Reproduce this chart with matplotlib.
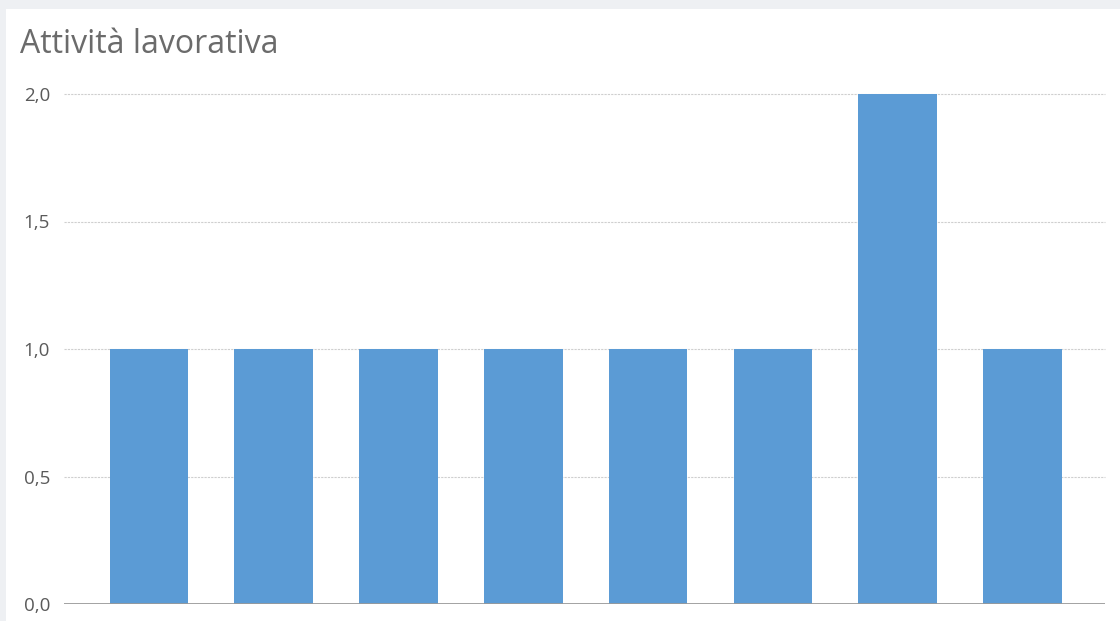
import numpy as np
import matplotlib.pyplot as plt
import matplotlib.patches as patches

# data
categories = ['1', '2', '3', '4', '5', '6', '7', '8']
values = [1, 1, 1, 1, 1, 1, 2, 1]
yticks = [0.0, 0.5, 1.0, 1.5, 2.0]
ytick_labels = ['0,0', '0,5', '1,0', '1,5', '2,0']

W, H = 1120, 621
fig = plt.figure(figsize=(W / 100, H / 100), dpi=100)
fig.patch.set_facecolor('#eef0f3')

# white card
fig.add_artist(patches.Rectangle((6 / W, 0), 1, 1 - 9 / H, transform=fig.transFigure,
                                 facecolor='white', edgecolor='none', zorder=0))

ax = fig.add_axes([64 / W, 1 - 604 / H, (1105 - 64) / W, (604 - 94) / H])
ax.set_facecolor('none')

x = np.arange(len(categories))
ax.bar(x, values, width=0.63, color='#5b9bd5', zorder=3)

ax.set_xlim(-0.68, len(categories) - 1 + 0.66)
ax.set_ylim(0, 2.0)
ax.set_yticks(yticks)
ax.set_yticklabels(ytick_labels, fontsize=13.5, color='#5a5a5a', family='Open Sans')
ax.set_xticks([])
ax.tick_params(axis='y', length=0, pad=29)
for lab in ax.get_yticklabels():
    lab.set_horizontalalignment('left')

for y in yticks[1:]:
    ax.axhline(y, color='#cfcfcf', linewidth=0.8, linestyle=(0, (2, 1)), zorder=1, clip_on=False)
ax.axhline(0, color='#999999', linewidth=2, zorder=4)

for s in ax.spines.values():
    s.set_visible(False)

fig.text(20 / W, 1 - 53 / H, 'Attività lavorativa', fontsize=23, color='#6b6b6b',
         family='Open Sans', va='baseline', ha='left')

plt.savefig('out.png', dpi=100)
